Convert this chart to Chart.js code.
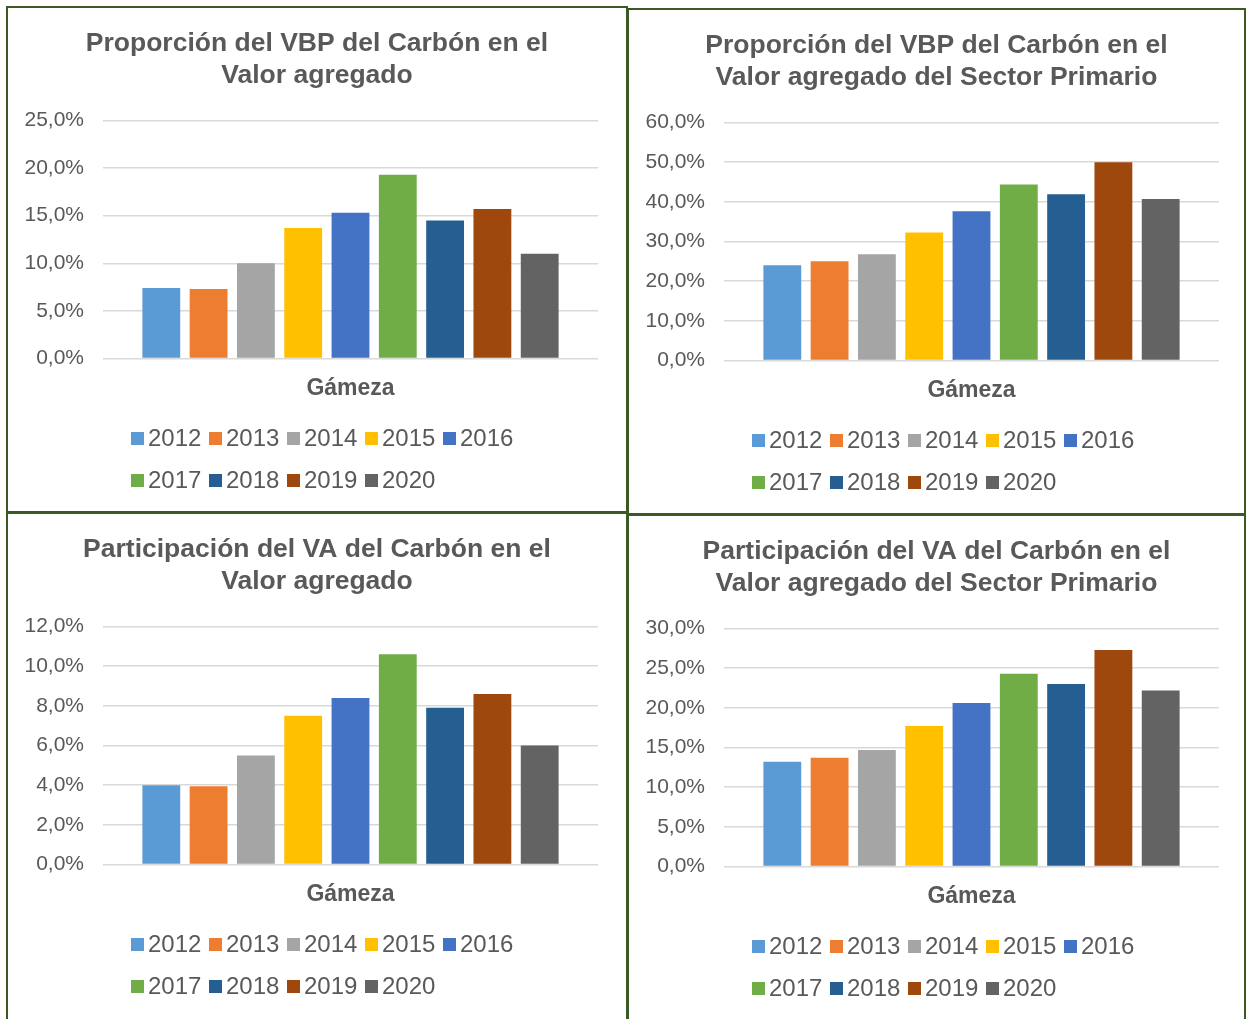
<html>
<head>
    <script src="https://cdn.jsdelivr.net/npm/chart.js"></script>
    <style>
        body { margin: 0; background: white; font-family: Arial, "Liberation Sans", sans-serif; overflow: hidden; }
        .panel { position: absolute; box-sizing: border-box; border: 2px solid #3b5a22; background: white; }
        .panel canvas { position: absolute; left: 0; top: 0; }
        .legend { position: absolute; left: 123px; top: 409px; width: 400px; display: flex; flex-wrap: wrap; }
        .item { display: flex; align-items: center; height: 42px; width: 78px; font-size: 24px; color: #595959; }
        .swatch { width: 13px; height: 13px; margin-right: 4px; flex: none; }
    </style>
</head>
<body>
    <div class="panel" style="left:6px; top:6px; width:622px; height:507px;"><canvas id="c0"></canvas><div class="legend"></div></div>
    <div class="panel" style="left:627px; top:8px; width:619px; height:507px;"><canvas id="c1"></canvas><div class="legend"></div></div>
    <div class="panel" style="left:6px; top:512px; width:622px; height:512px;"><canvas id="c2"></canvas><div class="legend"></div></div>
    <div class="panel" style="left:627px; top:514px; width:619px; height:512px;"><canvas id="c3"></canvas><div class="legend"></div></div>

    <script>
        const YEARS = ['2012', '2013', '2014', '2015', '2016', '2017', '2018', '2019', '2020'];
        const CATEGORY = ['Gámeza'];

        const VBP_VA = [7.4, 7.3, 10.0, 13.7, 15.3, 19.3, 14.5, 15.7, 11.0];
        const VBP_PRIMARIO = [24.0, 25.0, 26.8, 32.3, 37.6, 44.4, 41.9, 50.0, 40.7];
        const VA_VA = [4.0, 3.95, 5.5, 7.5, 8.4, 10.6, 7.9, 8.6, 6.0];
        const VA_PRIMARIO = [13.2, 13.7, 14.7, 17.7, 20.6, 24.3, 23.0, 27.3, 22.2];

        const TITLES = [
            ['Proporción del VBP del Carbón en el', 'Valor agregado'],
            ['Proporción del VBP del Carbón en el', 'Valor agregado del Sector Primario'],
            ['Participación del VA del Carbón en el', 'Valor agregado'],
            ['Participación del VA del Carbón en el', 'Valor agregado del Sector Primario']
        ];
        const Y_MAX = [25, 60, 12, 30];
        const Y_STEP = [5, 10, 2, 5];
        const SERIES = [VBP_VA, VBP_PRIMARIO, VA_VA, VA_PRIMARIO];

        const COLORS = ['#5B9BD5', '#ED7D31', '#A5A5A5', '#FFC000', '#4472C4', '#70AD47', '#255E91', '#9E480E', '#636363'];
        const TEXT = '#595959';
        const FONT = 'Arial, "Liberation Sans", sans-serif';

        function pct(v) {
            return v.toFixed(1).replace('.', ',') + '%';
        }

        SERIES.forEach((values, k) => {
            const canvas = document.getElementById('c' + k);
            const panel = canvas.parentNode;
            const w = panel.clientWidth;
            const h = 420;
            canvas.width = w;
            canvas.height = h;
            canvas.style.width = w + 'px';
            canvas.style.height = h + 'px';

            new Chart(canvas.getContext('2d'), {
                type: 'bar',
                data: {
                    labels: CATEGORY,
                    datasets: YEARS.map((y, i) => ({
                        label: y,
                        data: [values[i]],
                        backgroundColor: COLORS[i],
                        borderWidth: 0,
                        categoryPercentage: 0.86,
                        barPercentage: 0.8
                    }))
                },
                options: {
                    responsive: false,
                    animation: false,
                    layout: { padding: { left: 0, right: 0, top: 0, bottom: 19.5 } },
                    plugins: {
                        legend: { display: false },
                        tooltip: { enabled: false },
                        title: {
                            display: true,
                            text: TITLES[k],
                            color: TEXT,
                            font: { family: FONT, size: 26.5, weight: 'bold', lineHeight: 1.2 },
                            padding: { top: 20, bottom: 28.9 }
                        }
                    },
                    scales: {
                        x: {
                            grid: { display: false },
                            border: { display: false },
                            ticks: {
                                color: TEXT,
                                padding: 8,
                                font: { family: FONT, size: 23, weight: 'bold' }
                            },
                            afterFit: s => { s.height = 50; }
                        },
                        y: {
                            min: 0,
                            max: Y_MAX[k],
                            border: { display: false },
                            grid: { color: '#D9D9D9', lineWidth: 1.5, drawTicks: false },
                            ticks: {
                                stepSize: Y_STEP[k],
                                color: TEXT,
                                padding: 19,
                                font: { family: FONT, size: 21 },
                                callback: v => pct(v)
                            },
                            afterFit: s => { s.width = 95; }
                        },
                        // eje vacío a la derecha, solo para dejar margen sin descentrar el título
                        margen: {
                            position: 'right',
                            border: { display: false },
                            grid: { display: false },
                            ticks: { display: false },
                            afterFit: s => { s.width = w - 590; }
                        }
                    }
                }
            });

            // leyenda en dos filas, alineada a la izquierda como en Excel
            const legend = panel.querySelector('.legend');
            YEARS.forEach((y, i) => {
                const item = document.createElement('div');
                item.className = 'item';
                item.innerHTML = '<span class="swatch" style="background:' + COLORS[i] + '"></span>' + y;
                legend.appendChild(item);
            });
        });
    </script>
</body>
</html>
